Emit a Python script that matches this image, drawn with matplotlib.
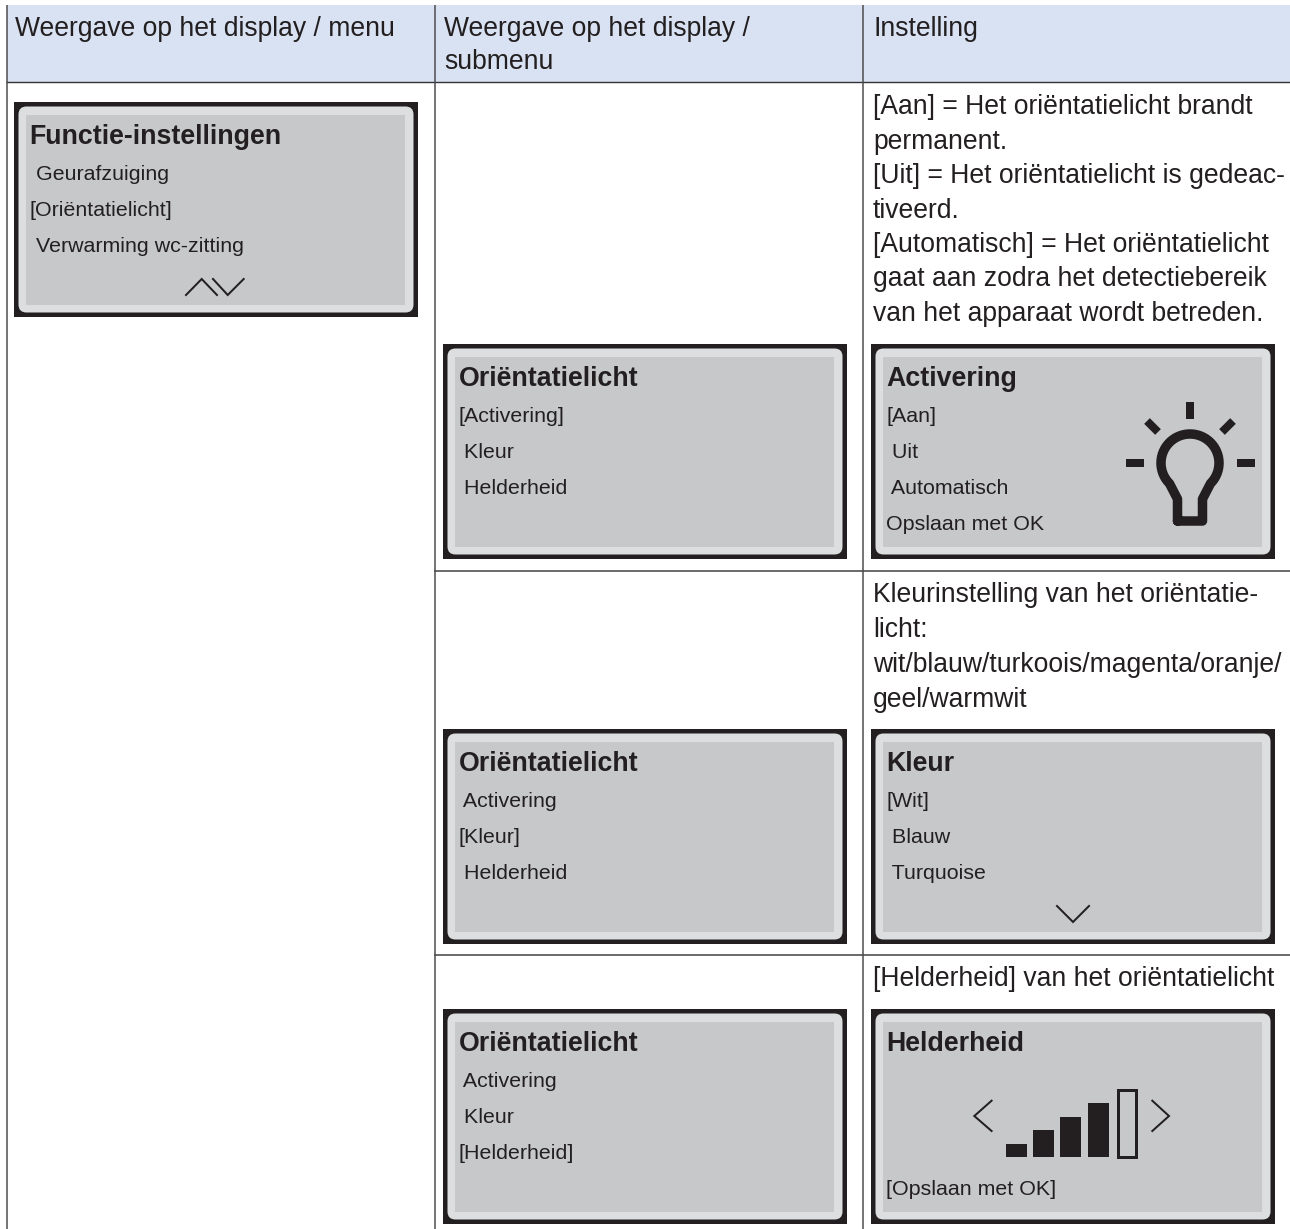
import matplotlib
matplotlib.use("Agg")
import matplotlib.pyplot as plt
import numpy as np
from matplotlib.patches import Rectangle, FancyBboxPatch

plt.rcParams['font.family'] = ['Liberation Sans', 'DejaVu Sans']
W, H = 1290, 1229
INK = '#231f20'

headers = ["Weergave op het display / menu", "Weergave op het display /\nsubmenu", "Instelling"]
settings = [
    (["[Aan] = Het oriëntatielicht brandt", "permanent.", "[Uit] = Het oriëntatielicht is gedeac-",
      "tiveerd.", "[Automatisch] = Het oriëntatielicht", "gaat aan zodra het detectiebereik",
      "van het apparaat wordt betreden."], 114.3),
    (["Kleurinstelling van het oriëntatie-", "licht:", "wit/blauw/turkoois/magenta/oranje/",
      "geel/warmwit"], 602),
    (["[Helderheid] van het oriëntatielicht"], 986),
]
screens = [
    (14, 102, 404, 215, "Functie-instellingen", [(" Geurafzuiging", 0), ("[Oriëntatielicht]", 1), (" Verwarming wc-zitting", 2)], 'updown'),
    (443, 344, 404, 215, "Oriëntatielicht", [("[Activering]", 0), (" Kleur", 1), (" Helderheid", 2)], None),
    (871, 344, 404, 215, "Activering", [("[Aan]", 0), (" Uit", 1), (" Automatisch", 2), ("Opslaan met OK", 3)], 'bulb'),
    (443, 729, 404, 215, "Oriëntatielicht", [(" Activering", 0), ("[Kleur]", 1), (" Helderheid", 2)], None),
    (871, 729, 404, 215, "Kleur", [("[Wit]", 0), (" Blauw", 1), (" Turquoise", 2)], 'down'),
    (443, 1009, 404, 215, "Oriëntatielicht", [(" Activering", 0), (" Kleur", 1), ("[Helderheid]", 2)], None),
    (871, 1009, 404, 215, "Helderheid", [("[Opslaan met OK]", 3)], 'bars'),
]
bar_heights = [13.5, 27.5, 40.5, 54.5]

fig = plt.figure(figsize=(W / 100, H / 100), dpi=100)
ax = fig.add_axes([0, 0, 1, 1])
ax.set_xlim(0, W)
ax.set_ylim(H, 0)
ax.axis('off')


def px(v):
    return v * 72 / 100


def vline(x, y0, y1):
    ax.plot([x, x], [y0, y1], color='#4a4a4c', lw=px(1.5), solid_capstyle='butt')


def hline(y, x0, x1, c='#4a4a4c', w=1.6):
    ax.plot([x0, x1], [y, y], color=c, lw=px(w), solid_capstyle='butt')


def text(x, y, s, size, **kw):
    ax.text(x, y, s, fontsize=px(size), color=INK, va='baseline', **kw)


def chevron(pts):
    xs, ys = zip(*pts)
    ax.plot(xs, ys, color=INK, lw=px(2), solid_joinstyle='miter')


def bulb(cx, cy):
    t = np.radians(np.linspace(-135, 135, 80))
    r = 29
    xs = np.r_[-12.5, -12.5, r * np.sin(t), 12.5, 12.5, -12.5] + cx
    ys = np.r_[58, 36, -r * np.cos(t), 36, 58, 58] + cy
    ax.plot(xs, ys, color=INK, lw=px(9.5), solid_joinstyle='round', solid_capstyle='round')
    ax.add_patch(Rectangle((cx - 4, cy - 61), 8, 17, fc=INK, ec='none'))
    ax.add_patch(Rectangle((cx - 64, cy - 4), 18, 8, fc=INK, ec='none'))
    ax.add_patch(Rectangle((cx + 47, cy - 4), 18, 8, fc=INK, ec='none'))
    ax.plot([cx - 43, cx - 32], [cy - 42, cy - 31], color=INK, lw=px(8), solid_capstyle='butt')
    ax.plot([cx + 43, cx + 32], [cy - 42, cy - 31], color=INK, lw=px(8), solid_capstyle='butt')


def bars(x, y):
    base = y + 148
    for i, bh in enumerate(bar_heights):
        ax.bar(x + 135 + i * 27.2, bh, width=21, bottom=base - bh, align='edge', color=INK)
    ax.add_patch(Rectangle((x + 246.5, base - 67), 18.5, 67, fc='none', ec=INK, lw=px(3)))
    chevron([(x + 120.6, y + 91.7), (x + 103.3, y + 107), (x + 120.6, y + 122)])
    chevron([(x + 281.3, y + 91.7), (x + 298, y + 107), (x + 281.3, y + 122)])


def screen(x, y, w, h, title, rows, extra):
    ax.add_patch(Rectangle((x, y), w, h, fc=INK, ec='none'))
    ax.add_patch(FancyBboxPatch((x + 4.5, y + 4.5), w - 9, h - 9, boxstyle='round,pad=0,rounding_size=8',
                                fc='#dcdee0', ec='none'))
    ax.add_patch(Rectangle((x + 12, y + 12.5), w - 25, h - 25, fc='#c6c8ca', ec='none'))
    tx = x + 15.5
    text(tx, y + 42, title, 26.8, fontweight='bold')
    for s, r in rows:
        text(tx, y + 78 + r * 36, s, 21.4)
    if extra == 'updown':
        chevron([(x + 172, y + 193), (x + 187.7, y + 177), (x + 203, y + 193)])
        chevron([(x + 199, y + 177), (x + 213.7, y + 193), (x + 229.7, y + 177)])
    elif extra == 'down':
        chevron([(x + 186, y + 177), (x + 202, y + 193), (x + 218, y + 177)])
    elif extra == 'bulb':
        bulb(x + 319, y + 119)
    elif extra == 'bars':
        bars(x, y)


ax.add_patch(Rectangle((6.5, 4.7), W - 6.5, 77, fc='#d8e2f2', ec='none'))
hline(81.7, 6, W, '#333335', 1.4)
hline(570.5, 434, W)
hline(954.7, 434, W)
vline(6.5, 4.7, H)
vline(434.8, 4.7, H)
vline(862.7, 4.7, H)

for x, s in zip((15, 444, 873), headers):
    for i, line in enumerate(s.split("\n")):
        text(x, 36 + i * 33, line, 26.5)

for lines, y0 in settings:
    step = 34.4 if len(lines) > 4 else 35
    for i, line in enumerate(lines):
        text(873, y0 + i * step, line, 26.5)

for s in screens:
    screen(*s)

ax.set_xlim(0, W)
ax.set_ylim(H, 0)
fig.savefig('out.png', dpi=100, facecolor='white')
